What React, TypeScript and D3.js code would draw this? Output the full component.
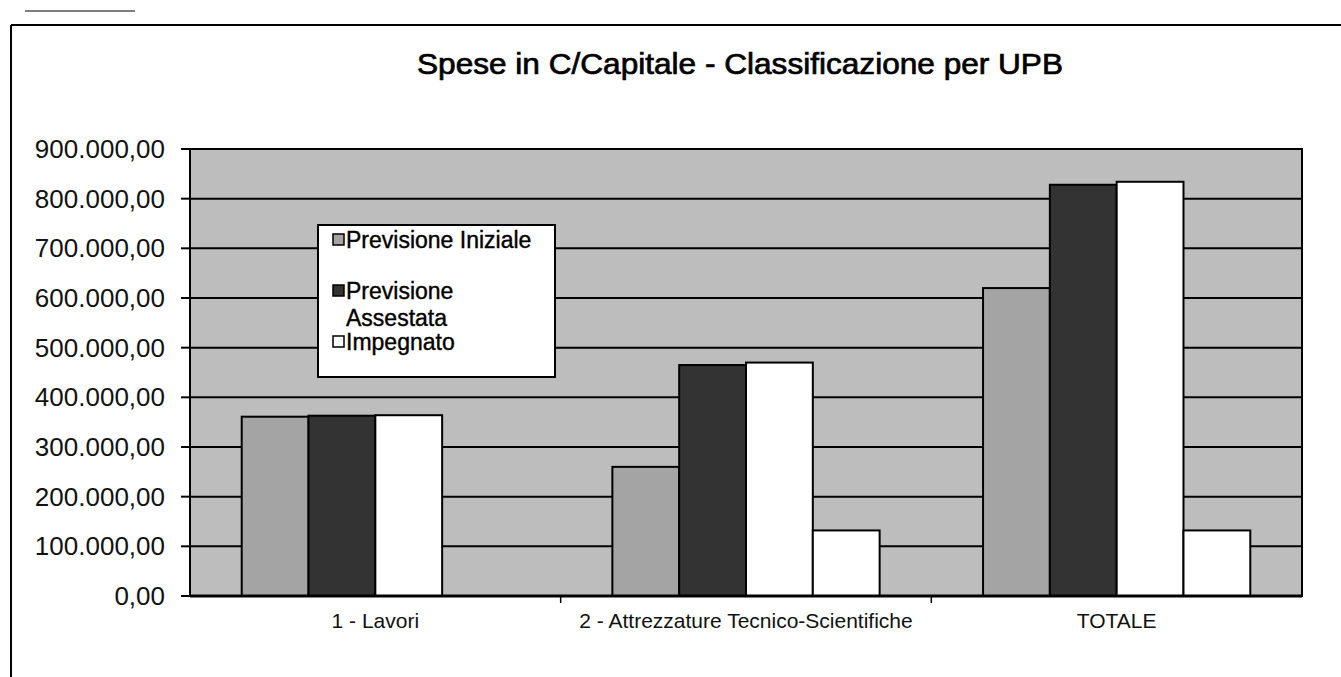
import React from "react";
import * as d3 from "d3";

const categories = ["1 - Lavori", "2 - Attrezzature Tecnico-Scientifiche", "TOTALE"];
const seriesNames = ["Previsione Iniziale", "Previsione Assestata", "Impegnato", "Serie 4"];
const previsioneIniziale = [361000, 260000, 620000];
const previsioneAssestata = [363000, 465000, 828000];
const impegnato = [364000, 470000, 834000];
const serie4 = [0, 132000, 132000];
const yTicks = [0, 100000, 200000, 300000, 400000, 500000, 600000, 700000, 800000, 900000];
const legendItems = [
  { series: 0, lines: ["Previsione Iniziale"] },
  { series: 1, lines: ["Previsione", "Assestata"] },
  { series: 2, lines: ["Impegnato"] },
];

const W = 1341;
const H = 677;
const plot = { left: 190, right: 1302, top: 149, bottom: 596 };
const fills = ["#a4a4a4", "#333333", "#ffffff", "#ffffff"];
const font = "'Liberation Sans', Arial, sans-serif";

export default function App() {
  const allSeries = [previsioneIniziale, previsioneAssestata, impegnato, serie4];
  const x0 = d3.scaleBand<string>().domain(categories).range([plot.left, plot.right]).padding(0);
  const x1 = d3
    .scaleBand<number>()
    .domain(d3.range(seriesNames.length))
    .range([0, x0.bandwidth()])
    .paddingInner(0)
    .paddingOuter(0.774);
  const y = d3.scaleLinear().domain([0, 900000]).range([plot.bottom, plot.top]);
  const loc = d3.formatLocale({ decimal: ",", thousands: ".", grouping: [3], currency: ["", ""] });
  const fmt = loc.format(",.2f");

  const bars: JSX.Element[] = [];
  categories.forEach((c, ci) => {
    allSeries.forEach((s, si) => {
      const v = s[ci];
      if (!v) return;
      const bx = (x0(c) as number) + (x1(si) as number);
      bars.push(
        <rect
          key={`b${ci}-${si}`}
          x={bx}
          y={y(v)}
          width={x1.bandwidth()}
          height={y(0) - y(v)}
          fill={fills[si]}
          stroke="#000"
          strokeWidth={2}
        />
      );
    });
  });

  const legendX = 318;
  const legendY = 225;
  const legendRows: JSX.Element[] = [];
  let row = 0;
  const rowYs = [240, 291, 318, 342];
  legendItems.forEach((it, i) => {
    const firstY = rowYs[row];
    legendRows.push(
      <rect
        key={`lm${i}`}
        x={legendX + 15}
        y={firstY - 6}
        width={11}
        height={11}
        fill={fills[it.series]}
        stroke="#000"
        strokeWidth={1.5}
      />
    );
    it.lines.forEach((ln, li) => {
      legendRows.push(
        <text
          key={`lt${i}-${li}`}
          x={legendX + 28}
          y={rowYs[row]}
          dominantBaseline="central"
          fontSize={23}
          fontFamily={font}
          fill="#000"
          stroke="#000"
          strokeWidth={0.4}
        >
          {ln}
        </text>
      );
      row++;
    });
  });

  return (
    <svg
      width={W}
      height={H}
      style={{ position: "absolute", left: 0, top: 0, background: "#fff" }}
    >
      <rect x={0} y={0} width={W} height={H} fill="#fff" />
      {/* outer frame */}
      <line x1={11} y1={25} x2={W} y2={25} stroke="#000" strokeWidth={2} />
      <line x1={11} y1={25} x2={11} y2={H} stroke="#000" strokeWidth={2} />
      <line x1={25} y1={11} x2={135} y2={11} stroke="#555" strokeWidth={1.5} />

      <text
        x={740}
        y={74}
        textAnchor="middle"
        fontSize={29}
        fontFamily={font}
        textLength={646}
        lengthAdjust="spacingAndGlyphs"
        stroke="#000"
        strokeWidth={0.7}
      >
        Spese in C/Capitale - Classificazione per UPB
      </text>

      {/* plot background */}
      <rect
        x={plot.left}
        y={plot.top}
        width={plot.right - plot.left}
        height={plot.bottom - plot.top}
        fill="#bdbdbd"
      />
      {yTicks.map((t) => (
        <line
          key={`g${t}`}
          x1={plot.left}
          x2={plot.right}
          y1={y(t)}
          y2={y(t)}
          stroke="#000"
          strokeWidth={2}
        />
      ))}
      <rect
        x={plot.left}
        y={plot.top}
        width={plot.right - plot.left}
        height={plot.bottom - plot.top}
        fill="none"
        stroke="#000"
        strokeWidth={2}
      />
      {bars}

      {/* y axis */}
      <line x1={plot.left} x2={plot.left} y1={plot.top} y2={plot.bottom} stroke="#000" strokeWidth={2} />
      {yTicks.map((t) => (
        <g key={`yt${t}`}>
          <line x1={plot.left - 9} x2={plot.left} y1={y(t)} y2={y(t)} stroke="#000" strokeWidth={2} />
          <text
            x={165}
            y={y(t)}
            textAnchor="end"
            dominantBaseline="central"
            fontSize={26}
            fontFamily={font}
            fill="#111"
          >
            {fmt(t)}
          </text>
        </g>
      ))}

      {/* x axis */}
      <line x1={plot.left} x2={plot.right} y1={plot.bottom} y2={plot.bottom} stroke="#000" strokeWidth={3} />
      {categories.map((c, i) =>
        i === 0 ? null : (
          <line
            key={`xt${c}`}
            x1={x0(c) as number}
            x2={x0(c) as number}
            y1={plot.bottom}
            y2={plot.bottom + 7}
            stroke="#000"
            strokeWidth={1.5}
          />
        )
      )}
      {categories.map((c) => (
        <text
          key={`xl${c}`}
          x={(x0(c) as number) + x0.bandwidth() / 2}
          y={620}
          textAnchor="middle"
          dominantBaseline="central"
          fontSize={21}
          fontFamily={font}
          fill="#111"
        >
          {c}
        </text>
      ))}

      {/* legend */}
      <rect
        x={legendX}
        y={legendY}
        width={237}
        height={152}
        fill="#fff"
        stroke="#000"
        strokeWidth={2}
      />
      {legendRows}
    </svg>
  );
}
